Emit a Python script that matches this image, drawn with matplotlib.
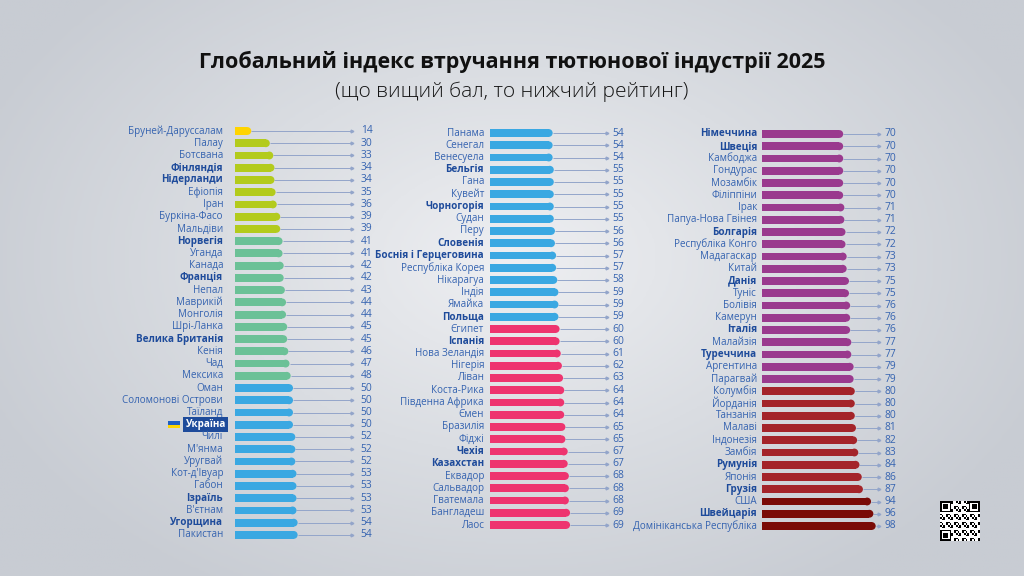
import matplotlib
matplotlib.use("Agg")
import matplotlib.pyplot as plt
from matplotlib.patches import Ellipse, Rectangle
import matplotlib.transforms as mtransforms
import numpy as np

plt.rcParams['font.family'] = ['Open Sans', 'DejaVu Sans']

# дані: країна, бал
countries1 = ["Бруней-Даруссалам", "Палау", "Ботсвана", "Фінляндія", "Нідерланди", "Ефіопія", "Іран",
              "Буркіна-Фасо", "Мальдіви", "Норвегія", "Уганда", "Канада", "Франція", "Непал", "Маврикій",
              "Монголія", "Шрі-Ланка", "Велика Британія", "Кенія", "Чад", "Мексика", "Оман",
              "Соломонові Острови", "Таїланд", "Україна", "Чилі", "М'янма", "Уругвай", "Кот-д'Івуар",
              "Габон", "Ізраїль", "В'єтнам", "Угорщина", "Пакистан"]
scores1 = [14, 30, 33, 34, 34, 35, 36, 39, 39, 41, 41, 42, 42, 43, 44, 44, 45, 45, 46, 47, 48,
           50, 50, 50, 50, 52, 52, 52, 53, 53, 53, 53, 54, 54]

countries2 = ["Панама", "Сенегал", "Венесуела", "Бельгія", "Гана", "Кувейт", "Чорногорія", "Судан",
              "Перу", "Словенія", "Боснія і Герцеговина", "Республіка Корея", "Нікарагуа", "Індія",
              "Ямайка", "Польща", "Єгипет", "Іспанія", "Нова Зеландія", "Нігерія", "Ліван", "Коста-Рика",
              "Південна Африка", "Ємен", "Бразилія", "Фіджі", "Чехія", "Казахстан", "Еквадор",
              "Сальвадор", "Гватемала", "Бангладеш", "Лаос"]
scores2 = [54, 54, 54, 55, 55, 55, 55, 55, 56, 56, 57, 57, 58, 59, 59, 59, 60, 60, 61, 62, 63, 64,
           64, 64, 65, 65, 67, 67, 68, 68, 68, 69, 69]

countries3 = ["Німеччина", "Швеція", "Камбоджа", "Гондурас", "Мозамбік", "Філіппіни", "Ірак",
              "Папуа-Нова Гвінея", "Болгарія", "Республіка Конго", "Мадагаскар", "Китай", "Данія",
              "Туніс", "Болівія", "Камерун", "Італія", "Малайзія", "Туреччина", "Аргентина", "Парагвай",
              "Колумбія", "Йорданія", "Танзанія", "Малаві", "Індонезія", "Замбія", "Румунія", "Японія",
              "Грузія", "США", "Швейцарія", "Домініканська Республіка"]
scores3 = [70, 70, 70, 70, 70, 70, 71, 71, 72, 72, 73, 73, 75, 75, 76, 76, 76, 77, 77, 79, 79,
           80, 80, 80, 81, 82, 83, 84, 86, 87, 94, 96, 98]

# країни, виділені жирним
bold = {"Фінляндія", "Нідерланди", "Норвегія", "Франція", "Велика Британія", "Ізраїль", "Угорщина",
        "Бельгія", "Чорногорія", "Словенія", "Боснія і Герцеговина", "Польща", "Іспанія", "Чехія",
        "Казахстан", "Німеччина", "Швеція", "Болгарія", "Данія", "Італія", "Туреччина", "Румунія",
        "Грузія", "Швейцарія"}

# межі діапазонів балів і кольори
band_edges = [30, 40, 50, 60, 70, 80, 90]
band_colors = ["#FFD400", "#B3CB1C", "#6BC197", "#3AA8E2", "#EE346F", "#9A3A8E", "#A4242A", "#7A0B07"]


def band_color(v):
    return band_colors[int(np.searchsorted(band_edges, v, side='right'))]


W, H = 1024, 576
fig = plt.figure(figsize=(W / 100, H / 100), dpi=100)

# фон з м'яким градієнтом
bg = fig.add_axes([0, 0, 1, 1])
yy, xx = np.mgrid[0:1:200j, 0:1:360j]
r = np.sqrt(((xx - 0.5) / 0.75) ** 2 + ((yy - 0.45) / 0.9) ** 2)
bg.imshow(r, cmap=matplotlib.colors.LinearSegmentedColormap.from_list("bg", ["#EEEFF2", "#DADDE2", "#C8CCD3"]),
          extent=[0, 1, 0, 1], aspect='auto', vmin=0, vmax=0.75)
bg.set_xlim(0, 1)
bg.set_ylim(0, 1)
bg.axis('off')

fig.text(0.5, 1 - 62 / H, "Глобальний індекс втручання тютюнової індустрії 2025", ha='center', va='center',
         fontsize=15.5, fontweight='bold', color='#111111')
fig.text(0.5, 1 - 92 / H, "(що вищий бал, то нижчий рейтинг)", ha='center', va='center',
         fontsize=15, fontweight='light', color='#151515')

label_col = "#3563B0"
bold_col = "#1E4B9B"
line_col = "#93A5CA"
XMAX = 110
px_per_unit = 1.16
FS = 7.1


def draw_column(left_px, top_px, step_px, names, vals, lab_off, val_x):
    n = len(names)
    ax_w = XMAX * px_per_unit
    ax_h = n * step_px
    ax = fig.add_axes([left_px / W, 1 - (top_px - step_px / 2 + ax_h) / H, ax_w / W, ax_h / H])
    ax.set_xlim(0, XMAX)
    ax.set_ylim(n - 0.5, -0.5)
    ax.axis('off')
    y = np.arange(n)
    vals = np.array(vals, dtype=float)
    bh = 0.64
    aspect = step_px / px_per_unit  # x-одиниць на одну y-одиницю
    rad = bh / 2 * aspect
    cols = [band_color(v) for v in vals]
    # сполучні лінії
    ax.hlines(y, vals, 101, color=line_col, lw=0.7, zorder=1)
    ax.plot([101] * n, y, marker='>', ms=2, color=line_col, ls='none', zorder=1)
    # бари з заокругленим правим кінцем
    ax.barh(y, vals - rad, height=bh, color=cols, zorder=2, linewidth=0)
    for yi, v, c in zip(y, vals, cols):
        ax.add_patch(Ellipse((v - rad, yi), 2 * rad, bh, fc=c, ec='none', zorder=2))
    for i, (nm, v) in enumerate(zip(names, vals)):
        ax.annotate(str(int(v)), (val_x, i), ha='left', va='center',
                    fontsize=FS + 0.3, color=label_col, annotation_clip=False)
        if nm == "Україна":
            ax.annotate(nm, (0, i), xytext=(lab_off + 3, 0), textcoords='offset pixels', ha='right',
                        va='center', fontsize=FS, color='white', fontweight='bold', annotation_clip=False,
                        bbox=dict(boxstyle='square,pad=0.22', fc='#1E4B9B', ec='none'))
            # прапорець
            tr = ax.transData + mtransforms.ScaledTranslation(-67 / 100, 0, fig.dpi_scale_trans)
            ax.add_patch(Rectangle((0, i - 0.3), 12 / px_per_unit, 0.3, transform=tr, fc='#1F5FC4',
                                   ec='none', clip_on=False))
            ax.add_patch(Rectangle((0, i), 12 / px_per_unit, 0.3, transform=tr, fc='#FFD500',
                                   ec='none', clip_on=False))
        else:
            ax.annotate(nm, (0, i), xytext=(lab_off, 0), textcoords='offset pixels', ha='right', va='center',
                        fontsize=FS, color=bold_col if nm in bold else label_col,
                        fontweight='bold' if nm in bold else 'normal', annotation_clip=False)
    return ax


draw_column(235, 131, 12.24, countries1, scores1, -12, 108.5)
draw_column(490, 133, 12.25, countries2, scores2, -6, 105.4)
draw_column(762, 134, 12.25, countries3, scores3, -5, 105.2)

# QR-код (декоративний)
qr = fig.add_axes([940 / W, 1 - 541 / H, 40 / W, 40 / H])
n = 25
grid = np.zeros((n, n))
for i in range(n):
    for j in range(n):
        grid[i, j] = ((i * 7 + j * 13 + i * j) % 5 < 2)
for (a, b) in [(0, 0), (0, n - 7), (n - 7, 0)]:
    grid[a:a + 7, b:b + 7] = 1
    grid[a + 1:a + 6, b + 1:b + 6] = 0
    grid[a + 2:a + 5, b + 2:b + 5] = 1
qr.imshow(grid, cmap='Greys', interpolation='nearest')
qr.axis('off')

fig.savefig("out.png", dpi=100)
